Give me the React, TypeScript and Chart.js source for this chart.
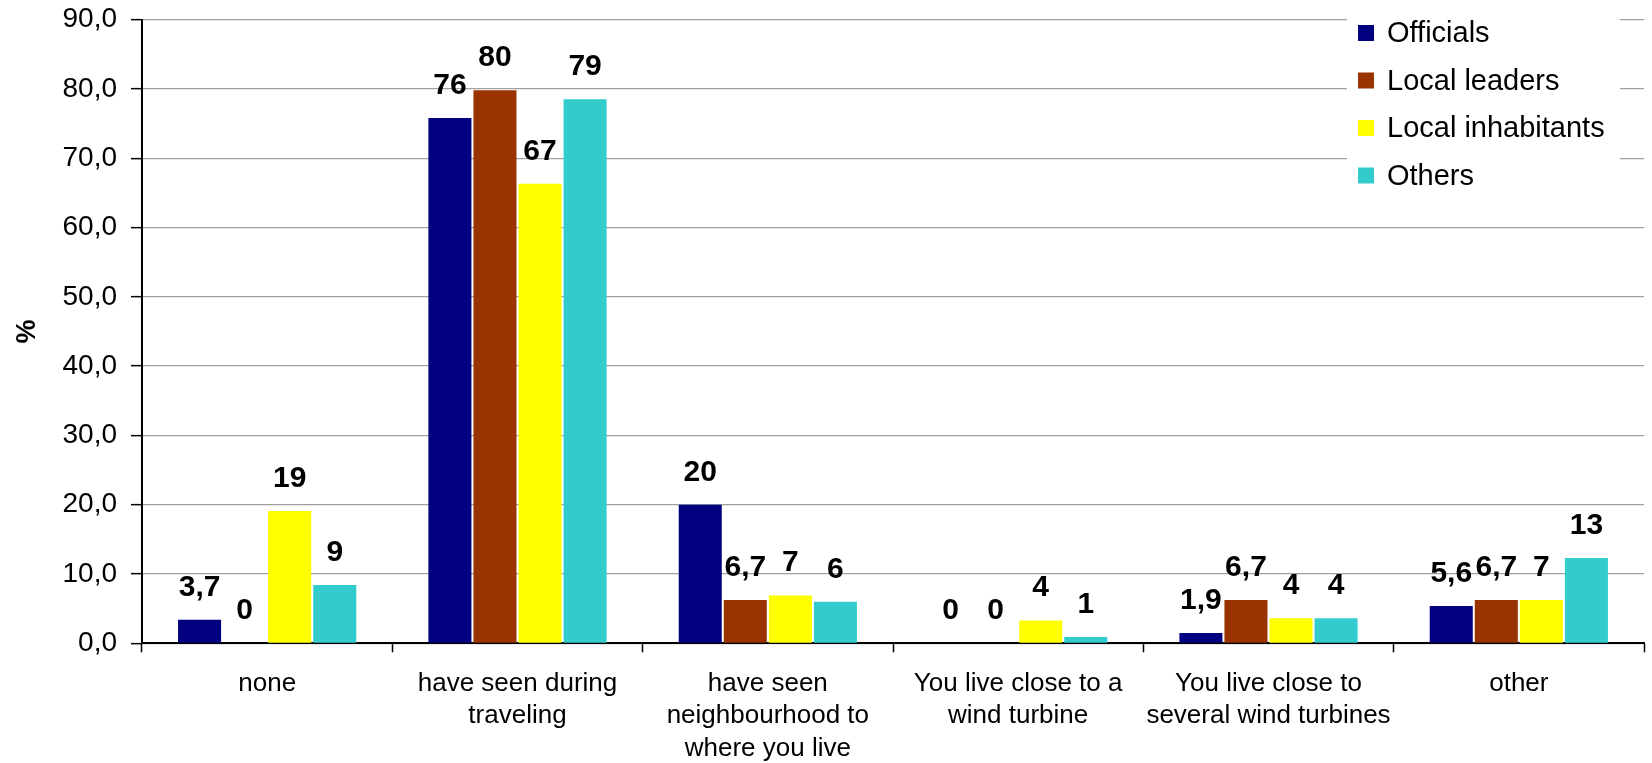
import React, { useEffect, useRef } from "react";
import { Chart, registerables } from "chart.js";

Chart.register(...registerables);

const categories: string[][] = [
  ["none"],
  ["have seen during", "traveling"],
  ["have seen", "neighbourhood to", "where you live"],
  ["You live close to a", "wind turbine"],
  ["You live close to", "several wind turbines"],
  ["other"],
];

const seriesNames = ["Officials", "Local leaders", "Local inhabitants", "Others"];
const seriesColors = ["#000080", "#993300", "#FFFF00", "#33CCCC"];

const officials = [3.4, 75.8, 20.0, 0, 1.5, 5.4];
const localLeaders = [0, 79.8, 6.25, 0, 6.25, 6.25];
const localInhabitants = [19.1, 66.3, 6.9, 3.3, 3.6, 6.25];
const others = [8.4, 78.5, 6.0, 0.9, 3.6, 12.3];

const officialsLabels = ["3,7", "76", "20", "0", "1,9", "5,6"];
const localLeadersLabels = ["0", "80", "6,7", "0", "6,7", "6,7"];
const localInhabitantsLabels = ["19", "67", "7", "4", "4", "7"];
const othersLabels = ["9", "79", "6", "1", "4", "13"];

const seriesValues = [officials, localLeaders, localInhabitants, others];
const seriesLabels = [officialsLabels, localLeadersLabels, localInhabitantsLabels, othersLabels];

const yMin = 0;
const yMax = 90;
const yStep = 10;

const FONT = "'Liberation Sans', Arial, Helvetica, sans-serif";

const valueLabelPlugin = {
  id: "valueLabels",
  afterDatasetsDraw(chart: any) {
    const ctx = chart.ctx;
    ctx.save();
    ctx.font = `bold 30px ${FONT}`;
    ctx.fillStyle = "#000";
    ctx.textAlign = "center";
    ctx.textBaseline = "alphabetic";
    chart.data.datasets.forEach((ds: any, di: number) => {
      const meta = chart.getDatasetMeta(di);
      meta.data.forEach((el: any, i: number) => {
        const txt = ds.valueLabels[i];
        ctx.fillText(txt, el.x, el.y - 24);
      });
    });
    ctx.restore();
  },
};

const legendPlugin = {
  id: "innerLegend",
  afterDraw(chart: any) {
    const ctx = chart.ctx;
    ctx.save();
    ctx.fillStyle = "#fff";
    ctx.fillRect(1347, 6, 273, 196);
    ctx.font = `29px ${FONT}`;
    ctx.textAlign = "left";
    ctx.textBaseline = "middle";
    chart.data.datasets.forEach((ds: any, i: number) => {
      const cy = 33 + i * 47.5;
      ctx.fillStyle = ds.backgroundColor;
      ctx.fillRect(1358, cy - 8, 16, 16);
      ctx.fillStyle = "#000";
      ctx.fillText(ds.label, 1387, cy + 1);
    });
    ctx.restore();
  },
};

export default function App() {
  const canvasRef = useRef<HTMLCanvasElement | null>(null);

  useEffect(() => {
    if (!canvasRef.current) return;
    const chart = new Chart(canvasRef.current, {
      type: "bar",
      data: {
        labels: categories,
        datasets: seriesNames.map((name, i) => ({
          label: name,
          data: seriesValues[i],
          valueLabels: seriesLabels[i],
          backgroundColor: seriesColors[i],
          borderWidth: 0,
          barPercentage: 0.955,
          categoryPercentage: 0.72,
        })) as any,
      },
      options: {
        animation: false,
        responsive: true,
        maintainAspectRatio: false,
        layout: { padding: { left: 0, right: 8, top: 19.6, bottom: 0 } },
        plugins: {
          legend: { display: false },
          tooltip: { enabled: false },
        },
        scales: {
          x: {
            grid: {
              display: true,
              drawOnChartArea: false,
              drawTicks: true,
              tickLength: 9,
              tickColor: "#000",
              tickWidth: 1.5,
              offset: true,
            },
            border: { display: true, color: "#000", width: 2 },
            ticks: {
              color: "#000",
              font: { family: FONT, size: 26, lineHeight: 1.25 },
              padding: 15,
              maxRotation: 0,
              minRotation: 0,
              autoSkip: false,
            },
            afterFit(scale: any) {
              scale.height = 763 - 643.3;
              scale.paddingLeft = 0;
              scale.paddingRight = 0;
            },
          },
          y: {
            min: yMin,
            max: yMax,
            grid: {
              color: "#a0a0a0",
              lineWidth: 1.3,
              tickLength: 11,
              tickColor: "#000",
              tickWidth: 1.5,
            },
            border: { display: true, color: "#000", width: 2 },
            ticks: {
              stepSize: yStep,
              color: "#000",
              padding: 14,
              font: { family: FONT, size: 28 },
              callback: (v: any) => Number(v).toFixed(1).replace(".", ","),
            },
            title: {
              display: true,
              text: "%",
              color: "#000",
              font: { family: FONT, size: 27, weight: "bold", lineHeight: 1 },
              padding: { top: 14, bottom: 0 },
            },
            afterFit(scale: any) {
              scale.width = 142;
              scale.paddingTop = 0;
              scale.paddingBottom = 0;
            },
          },
        },
      },
      plugins: [valueLabelPlugin, legendPlugin],
    } as any);
    return () => chart.destroy();
  }, []);

  return (
    <div style={{ position: "absolute", left: 0, top: 0, width: 1652, height: 763, background: "#fff" }}>
      <canvas ref={canvasRef} />
    </div>
  );
}
